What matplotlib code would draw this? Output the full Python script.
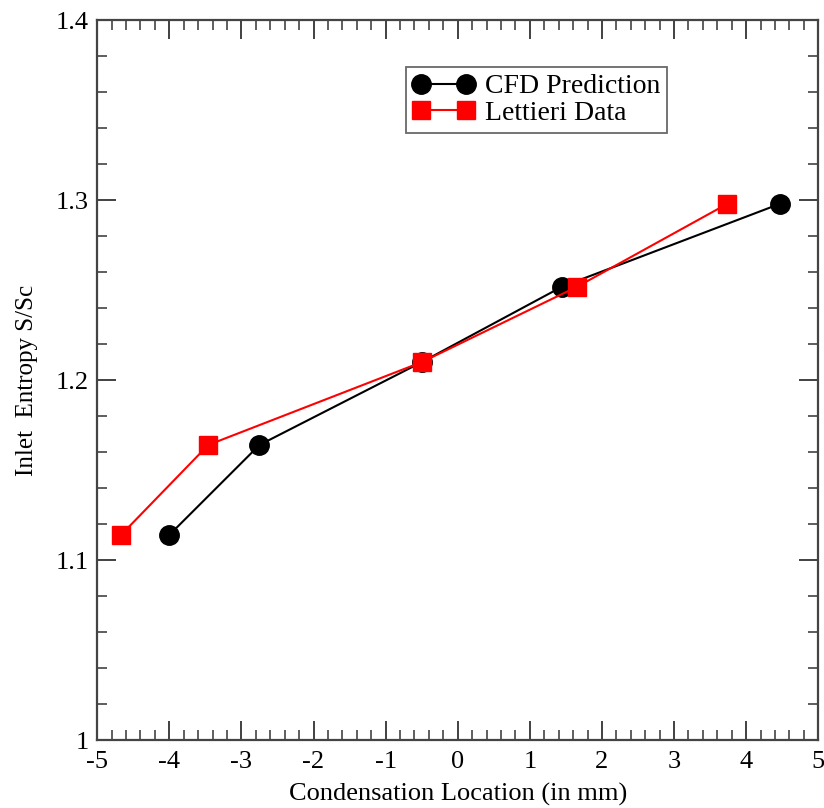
import matplotlib
matplotlib.use("Agg")
import matplotlib.pyplot as plt
from matplotlib.ticker import MultipleLocator

# values
cfd_x = [-4.0, -2.75, -0.5, 1.45, 4.47]
cfd_y = [1.114, 1.164, 1.210, 1.252, 1.298]
lett_x = [-4.67, -3.46, -0.5, 1.66, 3.74]
lett_y = [1.114, 1.164, 1.210, 1.252, 1.298]

plt.rcParams['font.family'] = ['Liberation Serif', 'DejaVu Serif']
plt.rcParams['axes.unicode_minus'] = False

fig = plt.figure(figsize=(8.24, 8.08), dpi=100)
ax = fig.add_axes([0.118, 0.084, 0.875, 0.891])

ax.plot(cfd_x, cfd_y, color='black', lw=1.5, marker='o', ms=14,
        label='CFD Prediction')
ax.plot(lett_x, lett_y, color='red', lw=1.5, marker='s', ms=12.5,
        label='Lettieri Data')

ax.set_xlim(-5, 5)
ax.set_ylim(1.0, 1.4)
ax.xaxis.set_major_locator(MultipleLocator(1))
ax.xaxis.set_minor_locator(MultipleLocator(0.2))
ax.yaxis.set_major_locator(MultipleLocator(0.1))
ax.yaxis.set_minor_locator(MultipleLocator(0.02))
ax.yaxis.set_major_formatter(plt.FuncFormatter(lambda v, p: f"{v:g}"))
ax.tick_params(which='both', direction='in', top=True, right=True,
               color='#333333', labelsize=19)
ax.tick_params(axis='y', which='major', pad=6)
ax.tick_params(axis='x', which='major', pad=8)
ax.tick_params(which='major', length=14, width=1.3)
ax.tick_params(which='minor', length=7, width=1.1)
for s in ax.spines.values():
    s.set_linewidth(1.6)
    s.set_color('#444444')

ax.set_xlabel('Condensation Location (in mm)', fontsize=19, labelpad=7)
ax.set_ylabel('Inlet  Entropy S/Sc', fontsize=18, labelpad=13)

leg = ax.legend(loc='upper left', bbox_to_anchor=(0.428, 0.935), numpoints=2,
                fontsize=20, frameon=True, fancybox=False, handlelength=2.2,
                borderpad=0.25, labelspacing=0.05, handletextpad=0.4,
                borderaxespad=0)
leg.get_frame().set_edgecolor('#444444')
leg.get_frame().set_linewidth(1.3)

fig.savefig('out.png', dpi=100)
